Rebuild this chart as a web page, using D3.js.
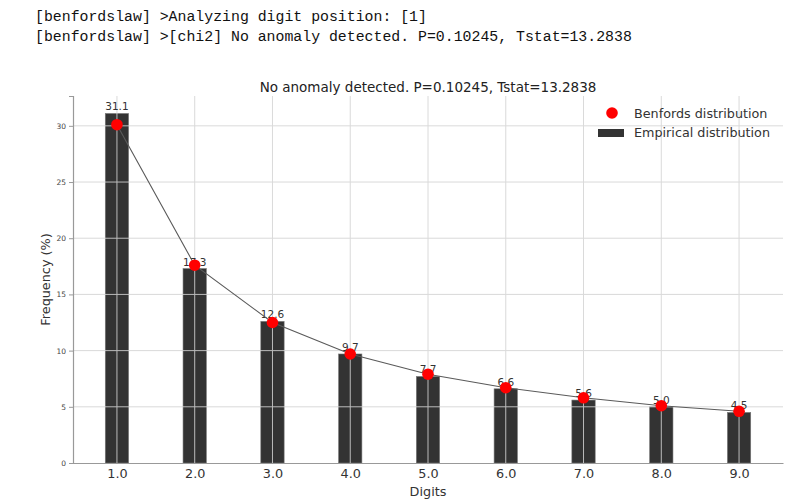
<!DOCTYPE html>
<html>
<head>
<meta charset="utf-8">
<script src="https://cdn.jsdelivr.net/npm/d3@7"></script>
<style>
  body { margin: 0; background: #fff; }
  svg { display: block; }
</style>
</head>
<body>
<svg id="chart" width="800" height="501"></svg>
<script>
// data
const digits = [1, 2, 3, 4, 5, 6, 7, 8, 9];
const empirical = [31.1, 17.3, 12.6, 9.7, 7.7, 6.6, 5.6, 5.0, 4.5];
const benford = [30.1, 17.6, 12.5, 9.7, 7.9, 6.7, 5.8, 5.1, 4.6];
const yTicks = [0, 5, 10, 15, 20, 25, 30];
const logLines = [
  '[benfordslaw] >Analyzing digit position: [1]',
  '[benfordslaw] >[chi2] No anomaly detected. P=0.10245, Tstat=13.2838'
];
const title = 'No anomaly detected. P=0.10245, Tstat=13.2838';

const svg = d3.select('#chart');
const margin = { top: 96, right: 17, bottom: 38, left: 73 };
const W = 800, H = 501;

// console output above the figure
svg.append('g').selectAll('text')
  .data(logLines)
  .join('text')
  .attr('x', 35)
  .attr('y', (d, i) => 21 + i * 20)
  .attr('font-family', 'Liberation Mono, DejaVu Sans Mono, monospace')
  .attr('font-size', 14.85)
  .attr('fill', '#111')
  .text(d => d);

const barW = 0.3;
const x = d3.scaleLinear([0.435, 9.565], [margin.left, W - margin.right]);
const y = d3.scaleLinear([0, d3.max(empirical) * 1.05], [H - margin.bottom, margin.top]);

const plot = svg.append('g');

// bars
plot.selectAll('.bar')
  .data(digits)
  .join('rect')
  .attr('class', 'bar')
  .attr('x', d => x(d - barW / 2))
  .attr('width', x(barW) - x(0))
  .attr('y', (d, i) => y(empirical[i]))
  .attr('height', (d, i) => y(0) - y(empirical[i]))
  .attr('fill', '#333333')
  .attr('stroke', '#777')
  .attr('stroke-width', 0.6);

// grid on top of bars
const grid = plot.append('g').attr('stroke', '#d4d4d4').attr('stroke-width', 1).attr('opacity', 0.85);
grid.selectAll('.gx').data(digits).join('line')
  .attr('x1', d => x(d)).attr('x2', d => x(d))
  .attr('y1', margin.top).attr('y2', H - margin.bottom);
grid.selectAll('.gy').data(yTicks.slice(1)).join('line')
  .attr('x1', margin.left).attr('x2', W - margin.right)
  .attr('y1', d => y(d)).attr('y2', d => y(d));

// axes
const xAxis = svg.append('g')
  .attr('transform', `translate(0,${H - margin.bottom})`)
  .call(d3.axisBottom(x).tickValues(digits).tickFormat(d3.format('.1f')).tickSize(0).tickPadding(6));
xAxis.select('.domain').attr('stroke', '#999').attr('stroke-width', 1.2);
xAxis.selectAll('text').attr('font-family', 'DejaVu Sans, sans-serif').attr('font-size', 12.8).attr('fill', '#333');

const yAxis = svg.append('g')
  .attr('transform', `translate(${margin.left},0)`)
  .call(d3.axisLeft(y).tickValues(yTicks).tickSize(4).tickPadding(3));
yAxis.select('.domain').attr('stroke', '#999').attr('stroke-width', 1.2);
yAxis.selectAll('.tick line').attr('stroke', '#999');
yAxis.selectAll('text').attr('font-family', 'DejaVu Sans, sans-serif').attr('font-size', 7.5).attr('fill', '#444');

// value labels
plot.selectAll('.lbl')
  .data(digits)
  .join('text')
  .attr('x', d => x(d))
  .attr('y', (d, i) => y(empirical[i]) - 3)
  .attr('text-anchor', 'middle')
  .attr('font-family', 'DejaVu Sans, sans-serif')
  .attr('font-size', 10.5)
  .attr('fill', '#333')
  .text((d, i) => empirical[i].toFixed(1));

// benford curve and points
const line = d3.line().x(d => x(d[0])).y(d => y(d[1]));
plot.append('path')
  .datum(d3.zip(digits, benford))
  .attr('d', line)
  .attr('fill', 'none')
  .attr('stroke', '#5a5a5a')
  .attr('stroke-width', 1.1);
plot.selectAll('.dot')
  .data(d3.zip(digits, benford))
  .join('circle')
  .attr('cx', d => x(d[0]))
  .attr('cy', d => y(d[1]))
  .attr('r', 5.8)
  .attr('fill', '#ff0000');

// titles
svg.append('text')
  .attr('x', (margin.left + W - margin.right) / 2)
  .attr('y', 92)
  .attr('text-anchor', 'middle')
  .attr('font-family', 'DejaVu Sans, sans-serif')
  .attr('font-size', 13.5)
  .attr('fill', '#222')
  .text(title);
svg.append('text')
  .attr('x', (margin.left + W - margin.right) / 2)
  .attr('y', 496)
  .attr('text-anchor', 'middle')
  .attr('font-family', 'DejaVu Sans, sans-serif')
  .attr('font-size', 12.8)
  .attr('fill', '#333')
  .text('Digits');
svg.append('text')
  .attr('transform', `translate(50,${(margin.top + H - margin.bottom) / 2}) rotate(-90)`)
  .attr('text-anchor', 'middle')
  .attr('font-family', 'DejaVu Sans, sans-serif')
  .attr('font-size', 12.8)
  .attr('fill', '#333')
  .text('Frequency (%)');

// legend
const legend = svg.append('g').attr('font-family', 'DejaVu Sans, sans-serif').attr('font-size', 12.75).attr('fill', '#333');
legend.append('circle').attr('cx', 612).attr('cy', 113).attr('r', 5.8).attr('fill', '#ff0000');
legend.append('text').attr('x', 634).attr('y', 117.5).text('Benfords distribution');
legend.append('rect').attr('x', 598).attr('y', 129).attr('width', 26).attr('height', 8).attr('fill', '#333');
legend.append('text').attr('x', 634).attr('y', 137).text('Empirical distribution');
</script>
</body>
</html>
